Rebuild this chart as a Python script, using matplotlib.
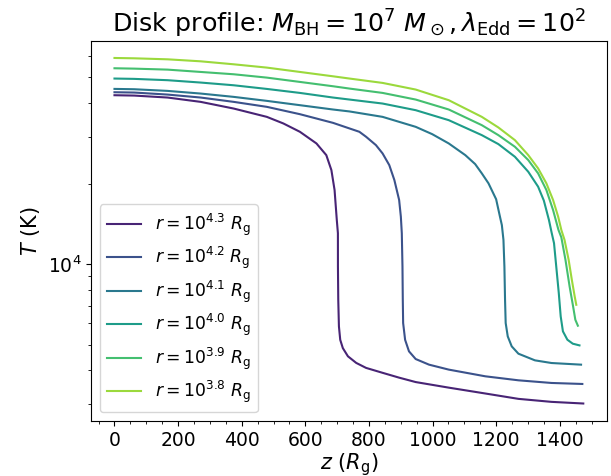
import matplotlib
matplotlib.use("Agg")
import matplotlib.pyplot as plt
import numpy as np

# disk temperature profiles T(z) for several radii
labels = [r"$r = 10^{4.3}\ R_{\rm g}$", r"$r = 10^{4.2}\ R_{\rm g}$",
          r"$r = 10^{4.1}\ R_{\rm g}$", r"$r = 10^{4.0}\ R_{\rm g}$",
          r"$r = 10^{3.9}\ R_{\rm g}$", r"$r = 10^{3.8}\ R_{\rm g}$"]

z_43 = [0, 62, 167, 271, 375, 479, 531, 583, 635, 666, 682, 692, 699, 702.5,
        702.6, 703.6, 705.7, 709.8, 718, 734, 760, 791, 843, 895, 947, 1051,
        1166, 1270, 1374, 1474]
T_43 = [42900, 42770, 42050, 40510, 38240, 35600, 33630, 31300, 28310, 25600,
        22500, 18950, 14640, 13060, 9800, 7360, 5850, 5210, 4850, 4520, 4270,
        4090, 3920, 3760, 3620, 3450, 3280, 3132, 3052, 3009]

z_42 = [0, 62, 167, 271, 375, 479, 583, 687, 770, 791, 822, 843, 864, 880,
        895, 900.4, 903.4, 905.5, 906.5, 907.6, 913.8, 926, 947, 989, 1051,
        1166, 1270, 1374, 1471]
T_42 = [44020, 43900, 43140, 42050, 40510, 38810, 36430, 33810, 31300, 29990,
        27910, 25970, 23490, 20650, 17390, 15060, 13060, 9800, 7360, 6020,
        5210, 4717, 4415, 4206, 4030, 3804, 3675, 3592, 3561]

z_41 = [0, 62, 167, 271, 375, 479, 583, 687, 739, 843, 947, 999, 1051, 1103,
        1134, 1155, 1176, 1200, 1212, 1218, 1223, 1226, 1228, 1230, 1236.5,
        1249, 1270, 1322, 1374, 1467]
T_41 = [45300, 45170, 44530, 43520, 42290, 40860, 39370, 37930, 37300, 35600,
        32670, 30670, 28310, 25600, 23700, 21870, 20070, 17500, 15060, 14000,
        12330, 9800, 7360, 6020, 5366, 4924, 4623, 4365, 4266, 4206]

z_40 = [0, 62, 167, 271, 375, 479, 583, 687, 739, 843, 947, 1051, 1155, 1207,
        1259, 1301, 1332, 1350, 1366, 1374, 1382, 1389, 1397, 1403, 1410,
        1424, 1441, 1462]
T_40 = [49530, 49390, 48830, 47850, 46740, 45290, 43760, 42050, 41330, 39930,
        37710, 34600, 30410, 28150, 25240, 22180, 19500, 17300, 14640, 13200,
        11980, 9800, 7790, 6375, 5604, 5214, 5039, 4966]

z_39 = [0, 62, 167, 271, 375, 479, 583, 687, 739, 843, 947, 1051, 1155, 1207,
        1259, 1301, 1332, 1358, 1379, 1396, 1405, 1418, 1431, 1442, 1449, 1457]
T_39 = [54120, 53950, 53490, 52430, 51390, 49930, 48110, 46350, 45430, 43760,
        41330, 37930, 33140, 30410, 27510, 24530, 21870, 18950, 15950, 13430,
        12600, 10380, 8250, 6947, 6194, 5884]

z_38 = [0, 62, 167, 271, 375, 479, 583, 687, 739, 843, 947, 1051, 1155, 1207,
        1259, 1301, 1332, 1358, 1379, 1395, 1405, 1415, 1428, 1438, 1447, 1452]
T_38 = [59140, 58970, 58460, 57460, 56000, 54430, 52430, 50500, 49530, 47700,
        45050, 41100, 35600, 32490, 29130, 25600, 22830, 20070, 17390, 15060,
        13430, 12330, 10380, 8737, 7570, 7047]

zs = [z_43, z_42, z_41, z_40, z_39, z_38]
Ts = [T_43, T_42, T_41, T_40, T_39, T_38]

colors = plt.cm.viridis(np.linspace(0.1, 0.85, len(labels)))

fig, ax = plt.subplots(figsize=(6.11, 4.76), dpi=100)
fig.subplots_adjust(left=0.149, right=0.993, top=0.9145, bottom=0.116)

for z, T, lab, c in zip(zs, Ts, labels, colors):
    ax.plot(z, T, color=c, lw=1.5, label=lab)

ax.set_yscale("log")
ax.minorticks_on()
ax.tick_params(labelsize=13.5)
ax.set_xlabel(r"$z$ ($R_{\rm g}$)", fontsize=15, labelpad=1)
ax.set_ylabel(r"$T$ (K)", fontsize=15)
ax.set_title(r"Disk profile: $M_{\rm BH} = 10^7\ M_\odot, \lambda_{\rm Edd} = 10^2$",
             fontsize=18.3)
ax.legend(loc="lower left", fontsize=12.4, labelspacing=0.42)

fig.savefig("out.png", dpi=100)
